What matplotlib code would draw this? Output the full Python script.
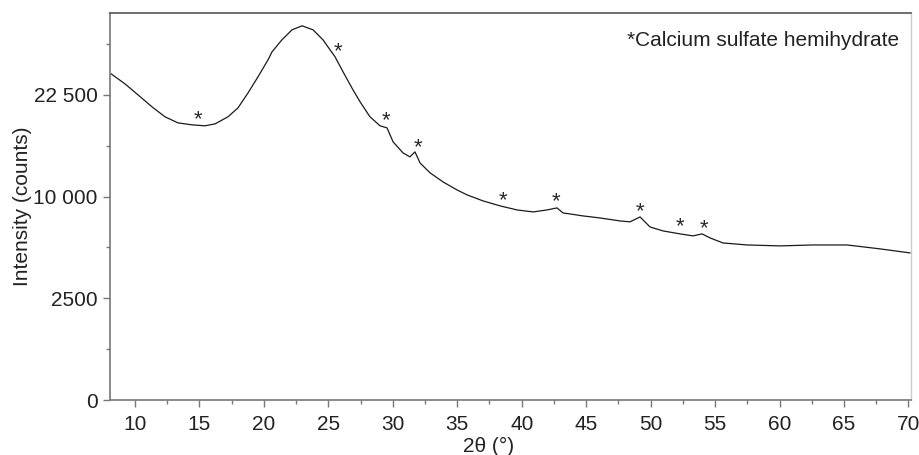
import numpy as np
import matplotlib
matplotlib.use("Agg")
import matplotlib.pyplot as plt
from matplotlib.transforms import offset_copy

plt.rcParams['font.family'] = ['Liberation Sans', 'DejaVu Sans']

# XRD pattern (2θ in degrees, intensity in counts)
two_theta = [8.14, 9.22, 10.23, 11.32, 12.33, 13.34, 14.42, 15.43, 16.21, 17.21,
             17.99, 18.77, 19.54, 20.32, 20.63, 21.40, 22.18, 22.96, 23.81, 24.58,
             25.52, 26.14, 26.91, 27.46, 28.23, 29.01, 29.55, 30.02, 30.79, 31.33,
             31.72, 32.11, 32.89, 33.89, 34.98, 35.76, 37.00, 38.32, 39.64, 40.88,
             41.96, 42.74, 43.20, 44.76, 46.07, 47.63, 48.40, 49.18, 49.95, 50.96,
             52.28, 53.29, 53.99, 54.61, 55.62, 57.48, 60.04, 62.60, 65.24, 67.80,
             70.12]
intensity = [25720, 24160, 22510, 20770, 19380, 18560, 18300, 18170, 18430, 19380,
             20630, 22800, 25240, 27970, 29300, 31360, 33120, 33840, 33120, 31360,
             28460, 26030, 23250, 21490, 19380, 18170, 17900, 16110, 14760, 14290,
             14880, 13590, 12470, 11500, 10670, 10170, 9580, 9110, 8730, 8550,
             8730, 8920, 8460, 8190, 8010, 7750, 7670, 8100, 7240, 6910,
             6670, 6510, 6670, 6350, 5960, 5810, 5740, 5810, 5810, 5520,
             5230]

# Calcium sulfate hemihydrate peak markers
star_x = [14.86, 25.77, 29.45, 31.93, 38.53, 42.66, 49.18, 52.28, 54.15]
star_y = [19650, 30200, 19510, 16020, 10070, 10000, 8980, 7640, 7500]

y_ticks = [0, 2500, 10000, 22500]
y_ticklabels = ['0', '2500', '10 000', '22 500']
y_minor = [625, 5625, 15625, 30625]
x_ticks = [10, 15, 20, 25, 30, 35, 40, 45, 50, 55, 60, 65, 70]

fig = plt.figure(figsize=(9.2, 4.55), dpi=100)
ax = fig.add_axes([110/920, 55/455, 801/920, 387/455])

ax.plot(two_theta, intensity, color='#1a1a1a', lw=0.9)

txt_color = '#222222'
star_tr = offset_copy(ax.transData, fig=fig, x=0, y=-7.5, units='points')
for sx, sy in zip(star_x, star_y):
    ax.text(sx, sy, '*', transform=star_tr, ha='center', va='baseline',
            fontsize=16, color='#2a2a2a')

ax.set_yscale('function', functions=(np.sqrt, np.square))
ax.set_ylim(0, 36200)

ax.set_yticks(y_ticks)
ax.set_yticklabels(y_ticklabels)
ax.set_yticks(y_minor, minor=True)
ax.set_xticks(x_ticks)
ax.set_xticks([x + 2.5 for x in x_ticks] + [7.5], minor=True)
ax.set_xlim(8.06, 70.2)

ax.tick_params(axis='both', which='major', direction='out', length=5, width=1,
               color='#777777', labelsize=15, labelcolor=txt_color, pad=4)
ax.tick_params(axis='x', which='major', pad=6)
ax.tick_params(axis='both', which='minor', direction='out', length=3, width=1,
               color='#777777')

for side in ['left', 'bottom']:
    ax.spines[side].set_color('#777777')
    ax.spines[side].set_linewidth(1.2)
ax.spines['top'].set_color('#555555')
ax.spines['top'].set_linewidth(1.2)
ax.spines['right'].set_color('#cccccc')
ax.spines['right'].set_linewidth(1.0)

ax.set_ylabel('Intensity (counts)', fontsize=15, color=txt_color)
ax.yaxis.set_label_coords(-0.097, 0.5)
ax.set_xlabel('2θ (°)', fontsize=15, color=txt_color)
ax.xaxis.set_label_coords(0.473, -0.095)

ax.text(0.985, 0.93, '*Calcium sulfate hemihydrate', transform=ax.transAxes,
        ha='right', va='center', fontsize=15, color=txt_color)

fig.savefig('out.png', dpi=100)
